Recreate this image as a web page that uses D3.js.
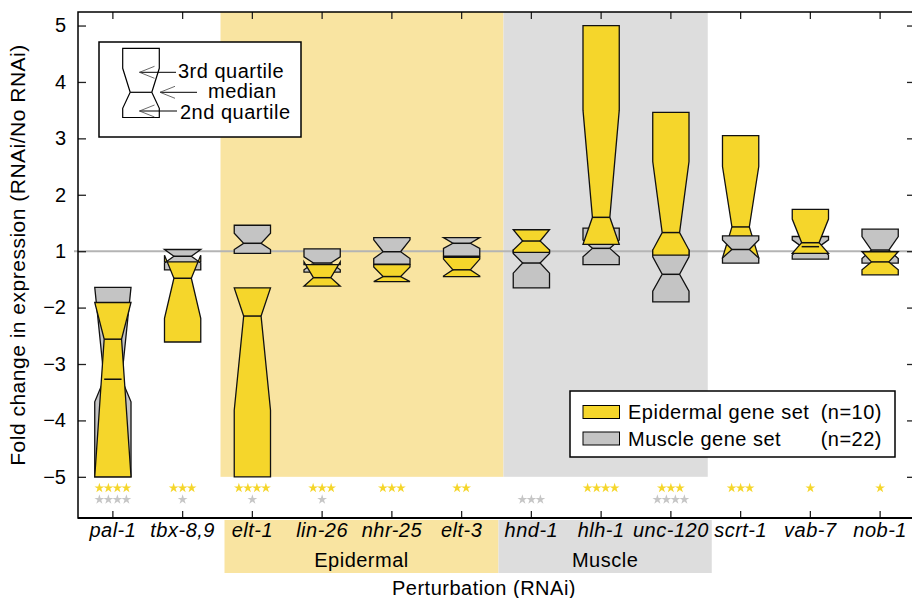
<!DOCTYPE html>
<html>
<head>
<meta charset="utf-8">
<script src="https://cdn.jsdelivr.net/npm/d3@7"></script>
<style>
  body { margin: 0; background: #fff; }
  text { font-family: "Liberation Sans", Arial, sans-serif; }
</style>
</head>
<body>
<div class="container"></div>
<script>
const categories = ['pal-1', 'tbx-8,9', 'elt-1', 'lin-26', 'nhr-25', 'elt-3', 'hnd-1', 'hlh-1', 'unc-120', 'scrt-1', 'vab-7', 'nob-1'];
const epidermalGroup = ['elt-1', 'lin-26', 'nhr-25', 'elt-3'];
const muscleGroup = ['hnd-1', 'hlh-1', 'unc-120'];

// fold change per box: [3rd quartile, notch top, median, notch bottom, 1st quartile]
const epidermalBoxes = [
  [-1.91, -1.91, -2.56, -5.0, -5.0],
  [-1.19, -1.07, -1.48, -2.19, -2.61],
  [-1.65, -1.65, -2.15, -3.82, -5.0],
  [-1.24, -1.19, -1.47, -1.62, -1.62],
  [-1.24, -1.28, -1.45, -1.54, -1.54],
  [-1.11, -1.14, -1.33, -1.44, -1.45],
  [1.38, 1.38, 1.18, 1.02, -1.02],
  [5.0, 3.5, 1.6, 1.12, 1.12],
  [3.46, 2.59, 1.33, 1.02, -1.07],
  [3.05, 2.5, 1.43, -1.12, -1.12],
  [1.74, 1.57, 1.15, -1.04, -1.04],
  [-1.01, -1.01, -1.19, -1.33, -1.42]
];
const muscleBoxes = [
  [-1.64, -1.64, -3.27, -3.67, -5.0],
  [1.03, 1.03, -1.09, -1.21, -1.33],
  [1.46, 1.32, 1.14, 1.03, -1.04],
  [1.04, -1.10, -1.21, -1.33, -1.37],
  [1.24, 1.20, -1.01, -1.13, -1.23],
  [1.24, 1.24, 1.14, 1.05, -1.09],
  [1.02, -1.04, -1.21, -1.39, -1.65],
  [1.41, 1.20, 1.05, -1.10, -1.24],
  [1.02, -1.10, -1.41, -1.71, -1.90],
  [1.27, 1.20, 1.03, -1.12, -1.21],
  [1.26, 1.20, 1.08, -1.07, -1.14],
  [1.39, 1.26, 1.02, -1.13, -1.21]
];
// boxes where the muscle set is drawn over the epidermal set
const muscleOnTop = ['scrt-1'];

const epidermalStars = [4, 3, 4, 3, 3, 2, 0, 4, 3, 3, 1, 1];
const muscleStars = [4, 1, 1, 1, 0, 0, 3, 0, 4, 0, 0, 0];

const yTicks = [5, 4, 3, 2, 1, -2, -3, -4, -5];

const YELLOW = '#f5d62b';
const GRAY = '#c4c4c4';
const YELLOW_BG = '#f9e4a1';
const GRAY_BG = '#dddddd';

// fold change -> linear position (1 and -1 meet at zero)
var toAxis = function (v) { return v > 0 ? v - 1 : v + 1; };
var fromAxis = function (u) { return u >= 0 ? u + 1 : u - 1; };

var W = 912, H = 598;
var pLeft = 78, pRight = 915, pTop = 12, pBottom = 518;

var x = d3.scaleBand().domain(categories).range([pLeft, pRight]).padding(0);
var y = d3.scaleLinear().domain([-4.73, 4.24]).range([pBottom, pTop]);
var cx = function (c) { return x(c) + x.bandwidth() / 2; };

var display = function () {
  var svg = d3.select('.container').append('svg')
    .attr('width', W)
    .attr('height', H);

  drawShading(svg);
  drawRefLine(svg);
  drawBoxes(svg);
  drawStars(svg);
  drawAxes(svg);
  drawBoxLegend(svg);
  drawSetLegend(svg);
  drawLabels(svg);
};

var drawShading = function (svg) {
  var e0 = x(epidermalGroup[0]), e1 = x(epidermalGroup[epidermalGroup.length - 1]) + x.bandwidth();
  var m1 = x(muscleGroup[muscleGroup.length - 1]) + x.bandwidth();
  var yb = y(toAxis(-5));
  svg.append('rect').attr('x', e0 + 3).attr('y', pTop).attr('width', e1 + 7 - (e0 + 3)).attr('height', yb - pTop)
    .attr('fill', YELLOW_BG);
  svg.append('rect').attr('x', e1 + 7).attr('y', pTop).attr('width', m1 + 2 - (e1 + 7)).attr('height', yb - pTop)
    .attr('fill', GRAY_BG);
  // group label boxes under the axis
  svg.append('rect').attr('x', e0 + 7).attr('y', pBottom + 2).attr('width', e1 + 2 - (e0 + 7)).attr('height', 53)
    .attr('fill', YELLOW_BG);
  svg.append('rect').attr('x', e1 + 2).attr('y', pBottom + 2).attr('width', m1 + 6 - (e1 + 2)).attr('height', 53)
    .attr('fill', GRAY_BG);
};

var drawRefLine = function (svg) {
  svg.append('line')
    .attr('x1', pLeft - 4).attr('x2', W)
    .attr('y1', y(0)).attr('y2', y(0))
    .attr('stroke', '#b4b4b4')
    .attr('stroke-width', 2);
};

var boxPoints = function (c, b) {
  var hw = x.bandwidth() * 0.26, nw = hw * 0.48, m = cx(c);
  var q3 = y(toAxis(b[0])), nh = y(toAxis(b[1])), md = y(toAxis(b[2])), nl = y(toAxis(b[3])), q1 = y(toAxis(b[4]));
  return [[m - hw, q3], [m + hw, q3], [m + hw, nh], [m + nw, md], [m + hw, nl], [m + hw, q1],
          [m - hw, q1], [m - hw, nl], [m - nw, md], [m - hw, nh]];
};

var drawBoxes = function (svg) {
  var items = [];
  categories.forEach(function (c, i) {
    var e = { c: c, b: epidermalBoxes[i], fill: YELLOW };
    var m = { c: c, b: muscleBoxes[i], fill: GRAY };
    if (muscleOnTop.indexOf(c) >= 0) items.push(e, m); else items.push(m, e);
  });
  var g = svg.append('g');
  g.selectAll('polygon').data(items).enter().append('polygon')
    .attr('points', function (d) { return boxPoints(d.c, d.b).map(function (p) { return p.join(','); }).join(' '); })
    .attr('fill', function (d) { return d.fill; })
    .attr('stroke', '#111')
    .attr('stroke-width', 1.3)
    .attr('stroke-linejoin', 'miter');
  g.selectAll('line.med').data(items).enter().append('line')
    .attr('class', 'med')
    .attr('x1', function (d) { return cx(d.c) - x.bandwidth() * 0.26 * 0.48; })
    .attr('x2', function (d) { return cx(d.c) + x.bandwidth() * 0.26 * 0.48; })
    .attr('y1', function (d) { return y(toAxis(d.b[2])); })
    .attr('y2', function (d) { return y(toAxis(d.b[2])); })
    .attr('stroke', '#111')
    .attr('stroke-width', 1.5);
};

var drawStars = function (svg) {
  var star = d3.symbol().type(d3.symbolStar).size(30);
  var rows = [{ n: epidermalStars, fill: YELLOW, yy: 488 }, { n: muscleStars, fill: '#c6c6c6', yy: 499.5 }];
  rows.forEach(function (r) {
    categories.forEach(function (c, i) {
      for (var k = 0; k < r.n[i]; k++) {
        svg.append('path')
          .attr('d', star)
          .attr('transform', 'translate(' + (cx(c) + (k - (r.n[i] - 1) / 2) * 9) + ',' + r.yy + ')')
          .attr('fill', r.fill);
      }
    });
  });
};

var drawAxes = function (svg) {
  var fmt = function (u) {
    var v = Math.round(fromAxis(u));
    return v < 0 ? '\u2212' + Math.abs(v) : String(v);
  };
  var ticksU = yTicks.map(toAxis);

  var ya = svg.append('g').attr('transform', 'translate(' + pLeft + ',0)')
    .call(d3.axisLeft(y).tickValues(ticksU).tickFormat(fmt).tickSizeInner(-8).tickSizeOuter(0).tickPadding(12));
  ya.selectAll('text').style('font-size', '20px').attr('fill', '#000');

  svg.append('g').attr('transform', 'translate(' + pRight + ',0)')
    .call(d3.axisRight(y).tickValues(ticksU).tickFormat('').tickSizeInner(-8).tickSizeOuter(0));

  svg.append('g').attr('transform', 'translate(0,' + pTop + ')')
    .call(d3.axisTop(x).tickFormat('').tickSizeInner(-7).tickSizeOuter(0));

  var xa = svg.append('g').attr('transform', 'translate(0,' + pBottom + ')')
    .call(d3.axisBottom(x).tickSizeInner(-7).tickSizeOuter(0).tickPadding(5));
  xa.selectAll('text')
    .style('font-size', '20px')
    .style('font-style', 'italic')
    .style('letter-spacing', '0.5px')
    .attr('fill', '#000');

  svg.selectAll('.domain').remove();
  svg.selectAll('.tick line').attr('stroke', '#222').attr('stroke-width', 1.3);

  // frame
  svg.append('rect')
    .attr('x', pLeft).attr('y', pTop)
    .attr('width', pRight - pLeft).attr('height', pBottom - pTop)
    .attr('fill', 'none')
    .attr('stroke', '#000')
    .attr('stroke-width', 1.5);
  svg.append('line')
    .attr('x1', pLeft).attr('x2', pRight).attr('y1', pBottom).attr('y2', pBottom)
    .attr('stroke', '#000').attr('stroke-width', 2.2);
};

var drawBoxLegend = function (svg) {
  var g = svg.append('g');
  g.append('rect').attr('x', 99).attr('y', 42).attr('width', 202).attr('height', 95)
    .attr('fill', '#fff').attr('stroke', '#000').attr('stroke-width', 1.5);
  var m = 141, hw = 18.3, nw = 10.8;
  var pts = [[m - hw, 48.3], [m + hw, 48.3], [m + hw, 68.3], [m + nw, 92.3], [m + hw, 108.3], [m + hw, 117.5],
             [m - hw, 117.5], [m - hw, 108.3], [m - nw, 92.3], [m - hw, 68.3]];
  g.append('polygon').attr('points', pts.map(function (p) { return p.join(','); }).join(' '))
    .attr('fill', '#fff').attr('stroke', '#000').attr('stroke-width', 1.2);
  g.append('line').attr('x1', m - nw).attr('x2', m + nw).attr('y1', 92.3).attr('y2', 92.3)
    .attr('stroke', '#000').attr('stroke-width', 1.2);

  var arrows = [
    { tip: [139.5, 72.3], end: 176, label: '3rd quartile', tx: 178, ty: 78 },
    { tip: [160, 92.3], end: 197, label: 'median', tx: 208, ty: 98 },
    { tip: [139.5, 111], end: 177, label: '2nd quartile', tx: 180, ty: 118.5 }
  ];
  arrows.forEach(function (a) {
    g.append('line').attr('x1', a.tip[0]).attr('x2', a.end).attr('y1', a.tip[1]).attr('y2', a.tip[1])
      .attr('stroke', '#000').attr('stroke-width', 1);
    g.append('path')
      .attr('d', 'M' + (a.tip[0] + 15) + ',' + (a.tip[1] - 6) + 'L' + a.tip[0] + ',' + a.tip[1] + 'L' + (a.tip[0] + 15) + ',' + (a.tip[1] + 6))
      .attr('fill', 'none').attr('stroke', '#444').attr('stroke-width', 0.8);
    g.append('text').attr('x', a.tx).attr('y', a.ty).text(a.label)
      .style('font-size', '20px').style('letter-spacing', '0.5px');
  });
};

var drawSetLegend = function (svg) {
  var g = svg.append('g');
  g.append('rect').attr('x', 570).attr('y', 391).attr('width', 325).attr('height', 66)
    .attr('fill', '#fff').attr('stroke', '#000').attr('stroke-width', 1.5);
  var rows = [
    { fill: YELLOW, name: 'Epidermal gene set', n: '(n=10)', yy: 412 },
    { fill: GRAY, name: 'Muscle gene set', n: '(n=22)', yy: 438.5 }
  ];
  rows.forEach(function (r) {
    g.append('rect').attr('x', 583).attr('y', r.yy - 6.5).attr('width', 36.5).attr('height', 13)
      .attr('fill', r.fill).attr('stroke', '#000').attr('stroke-width', 1);
    g.append('text').attr('x', 628).attr('y', r.yy + 7).text(r.name)
      .style('font-size', '20px').style('letter-spacing', '0.5px');
    g.append('text').attr('x', 882).attr('y', r.yy + 7).attr('text-anchor', 'end').text(r.n)
      .style('font-size', '20px').style('letter-spacing', '0.5px');
  });
};

var drawLabels = function (svg) {
  var e0 = x(epidermalGroup[0]), e1 = x(epidermalGroup[epidermalGroup.length - 1]) + x.bandwidth();
  var m1 = x(muscleGroup[muscleGroup.length - 1]) + x.bandwidth();
  svg.append('text').attr('x', (e0 + 7 + e1 + 2) / 2).attr('y', 567).attr('text-anchor', 'middle')
    .text('Epidermal').style('font-size', '20px').style('letter-spacing', '0.5px');
  svg.append('text').attr('x', (e1 + 2 + m1 + 6) / 2).attr('y', 567).attr('text-anchor', 'middle')
    .text('Muscle').style('font-size', '20px').style('letter-spacing', '0.5px');
  svg.append('text').attr('x', 484).attr('y', 595).attr('text-anchor', 'middle')
    .text('Perturbation (RNAi)').style('font-size', '20px').style('letter-spacing', '0.5px');
  svg.append('text')
    .attr('transform', 'translate(25,255) rotate(-90)')
    .attr('text-anchor', 'middle')
    .text('Fold change in expression (RNAi/No RNAi)')
    .style('font-size', '21px').style('letter-spacing', '0.5px');
};

window.onload = display;
</script>
</body>
</html>
